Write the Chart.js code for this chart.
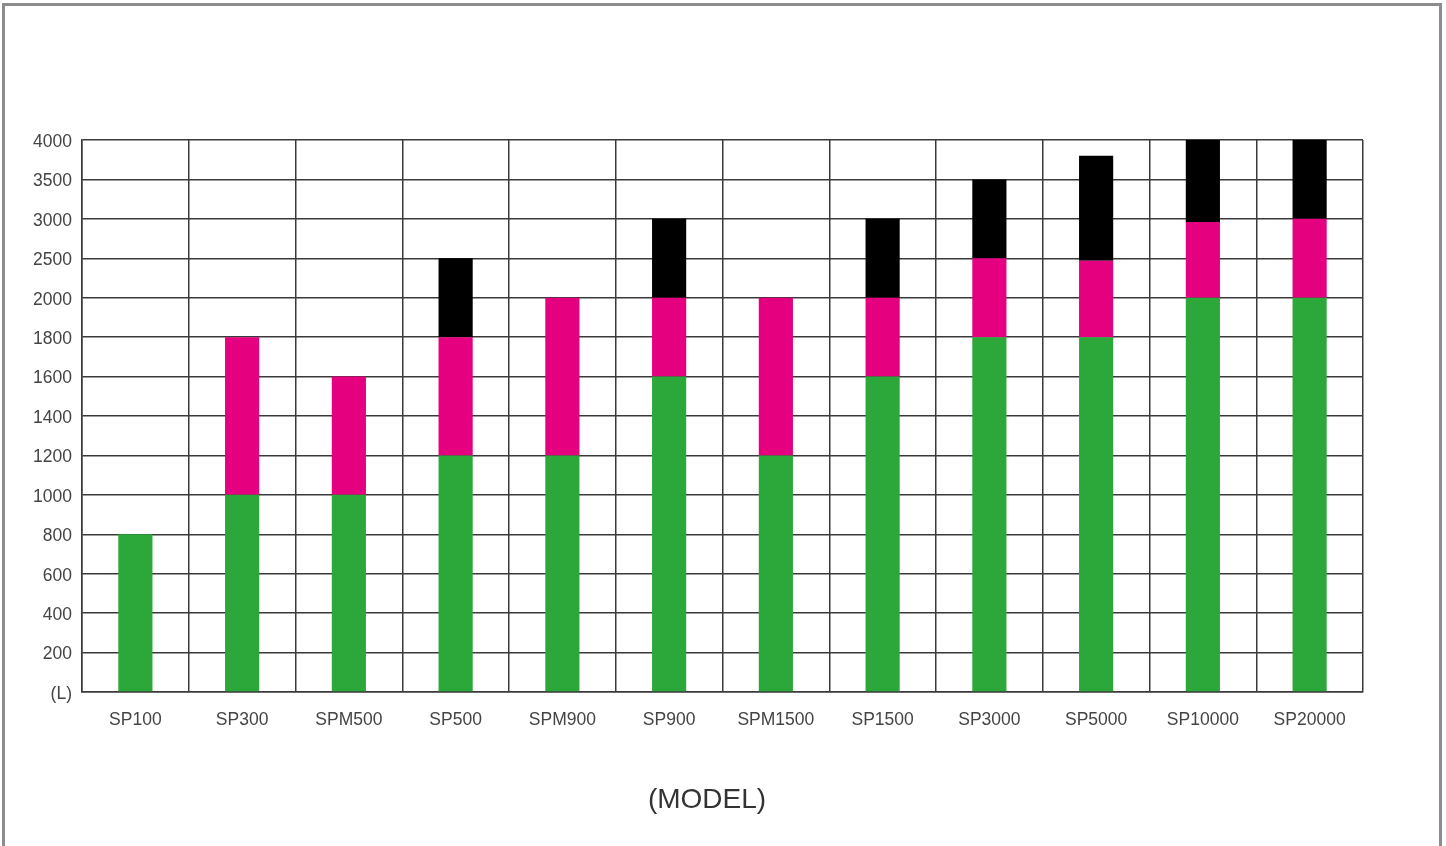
<!DOCTYPE html>
<html>
<head>
<meta charset="utf-8">
<script src="https://cdn.jsdelivr.net/npm/chart.js@4"></script>
<style>
  html, body { margin: 0; padding: 0; background: #fff; overflow: hidden; }
  #frame {
    position: absolute; left: 2px; top: 3px;
    width: 1434px; height: 900px;
    border: 3px solid #8c8c8c;
  }
  #chart { position: absolute; left: 0; top: 0; }
</style>
</head>
<body>
<div id="frame"></div>
<canvas id="chart" width="1446" height="846"></canvas>
<script>
/* DATA */

const models = ["SP100", "SP300", "SPM500", "SP500", "SPM900", "SP900",
  "SPM1500", "SP1500", "SP3000", "SP5000", "SP10000", "SP20000"];

// top of each colour block, in litres
const greenTop = [800, 1000, 1000, 1200, 1200, 1600, 1200, 1600, 1800, 1800, 2000, 2000];
const pinkTop = [null, 1800, 1600, 1800, 2000, 2000, 2000, 2000, 2500, 2470, 2960, 3000];
const blackTop = [null, null, null, 2500, null, 3000, null, 3000, 3500, 3800, 4000, 4000];

// y tick labels (axis is evenly spaced, not linear in litres)
const yLabels = ["(L)", "200", "400", "600", "800", "1000", "1200", "1400",
  "1600", "1800", "2000", "2500", "3000", "3500", "4000"];

/* AXIS POSITION: 200 per step up to 2000, then 500 per step */

function toPos(v) {
  if (v <= 2000) return v / 200;
  return 10 + (v - 2000) / 500;
}

function span(lo, hi) {
  return lo.map((a, i) => (hi[i] == null || a == null) ? null : [toPos(a), toPos(hi[i])]);
}

const zeros = models.map(() => 0);

const textColor = "#444444";
const gridColor = "#3a3a3a";
const labelFont = { family: "Liberation Sans", size: 17.5 };

new Chart(document.getElementById("chart"), {
  type: "bar",
  data: {
    labels: models,
    datasets: [
      { data: span(zeros, greenTop), backgroundColor: "#2ca83b" },
      { data: span(greenTop, pinkTop), backgroundColor: "#e4007f" },
      { data: span(pinkTop, blackTop), backgroundColor: "#000000" }
    ]
  },
  options: {
    responsive: false,
    animation: false,
    datasets: {
      bar: {
        grouped: false,
        categoryPercentage: 0.8,
        barPercentage: 0.4,
        borderWidth: 0
      }
    },
    layout: {
      padding: { left: 0, right: 32, top: 140, bottom: 0 }
    },
    plugins: {
      legend: { display: false },
      tooltip: { enabled: false },
      title: {
        display: true,
        position: "bottom",
        text: "(MODEL)",
        color: "#333333",
        font: { family: "Liberation Sans", size: 28, weight: "normal" },
        padding: { top: 13, bottom: 29 }
      }
    },
    scales: {
      x: {
        grid: {
          offset: true,
          color: gridColor,
          lineWidth: 1.5,
          drawTicks: false
        },
        border: { color: gridColor, width: 1.5 },
        ticks: {
          color: textColor,
          padding: 18,
          maxRotation: 0,
          font: labelFont
        },
        afterFit(scale) { scale.height = 78.4; }
      },
      y: {
        min: 0,
        max: 14,
        grid: {
          color: gridColor,
          lineWidth: 1.5,
          drawTicks: false
        },
        border: { color: gridColor, width: 1.5 },
        ticks: {
          stepSize: 1,
          color: textColor,
          padding: 10,
          labelOffset: 2,
          font: labelFont,
          callback: (v) => yLabels[v]
        },
        afterFit(scale) { scale.width = 82; }
      },
      // empty spacer on the right so the title sits where it does in the original
      spacer: {
        type: "linear",
        position: "right",
        min: 0,
        max: 14,
        grid: { display: false },
        border: { display: false },
        ticks: { display: false },
        afterFit(scale) { scale.width = 51; }
      }
    }
  }
});
</script>
</body>
</html>
